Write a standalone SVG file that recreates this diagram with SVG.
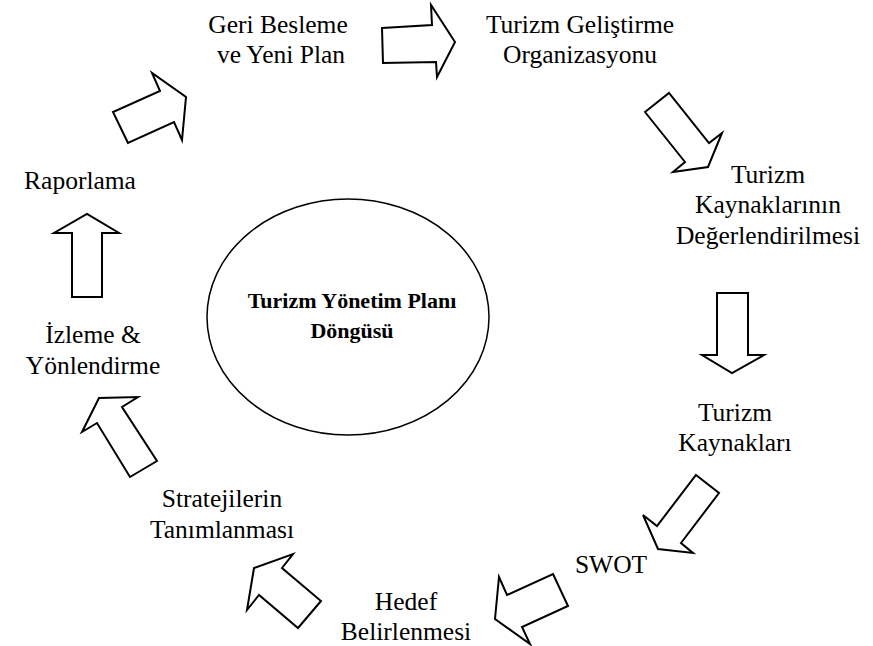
<svg xmlns="http://www.w3.org/2000/svg" width="873" height="646" viewBox="0 0 873 646">
<style>
.t{font-family:"Liberation Serif","Times New Roman",serif;font-size:25.5px;fill:#000;text-anchor:middle}
.b{font-family:"Liberation Serif","Times New Roman",serif;font-size:22px;font-weight:bold;fill:#000;text-anchor:middle}
.a{fill:#fff;stroke:#000;stroke-width:2;stroke-linejoin:miter}
</style>
<rect width="873" height="646" fill="#fff"/>
<g id="center">
<ellipse cx="348" cy="317" rx="141" ry="118" fill="#fff" stroke="#000" stroke-width="1.5"/>
<text class="b" x="352" y="308">Turizm Yönetim Planı</text>
<text class="b" x="352" y="338">Döngüsü</text>
</g>
<g id="n-geri"><text class="t" x="278" y="33">Geri Besleme</text><text class="t" x="281" y="63">ve Yeni Plan</text></g>
<g id="n-org"><text class="t" x="580" y="33">Turizm Geliştirme</text><text class="t" x="580" y="63">Organizasyonu</text></g>
<g id="n-deg"><text class="t" x="768" y="183">Turizm</text><text class="t" x="768" y="213">Kaynaklarının</text><text class="t" x="768" y="244">Değerlendirilmesi</text></g>
<g id="n-kay"><text class="t" x="735" y="421">Turizm</text><text class="t" x="735" y="451">Kaynakları</text></g>
<g id="n-swot"><text class="t" x="611" y="573">SWOT</text></g>
<g id="n-hedef"><text class="t" x="406" y="610">Hedef</text><text class="t" x="406" y="640">Belirlenmesi</text></g>
<g id="n-str"><text class="t" x="222" y="507">Stratejilerin</text><text class="t" x="222" y="538">Tanımlanması</text></g>
<g id="n-izl"><text class="t" x="93" y="343">İzleme &amp;</text><text class="t" x="93" y="374">Yönlendirme</text></g>
<g id="n-rap"><text class="t" x="80" y="189">Raporlama</text></g>
<g id="connectors">
<polygon class="a" points="382,28 432,25 431,5 455,42 437,77 436,62 383,63"/>
<polygon class="a" points="645,112 669,93 709,143 722,133 708,167 673,172 685,162"/>
<polygon class="a" points="717,293 748,293 748,355 764,355 732,373 702,355 717,355"/>
<polygon class="a" points="696,475 719,493 681,543 693,553 658,549 643,515 657,526"/>
<polygon class="a" points="553,574 568,606 522,627 530,644 495,619 499,577 507,595"/>
<polygon class="a" points="321,601 298,628 259,595 247,610 254,568 293,554 282,568"/>
<polygon class="a" points="157,461 130,477 97,423 82,432 99,398 138,397 122,407"/>
<polygon class="a" points="72,297 72,233 54,233 87,214 119,233 102,233 102,297"/>
<polygon class="a" points="128,143 113,112 160,91 152,73 186,97 182,140 174,122"/>
</g>
</svg>
